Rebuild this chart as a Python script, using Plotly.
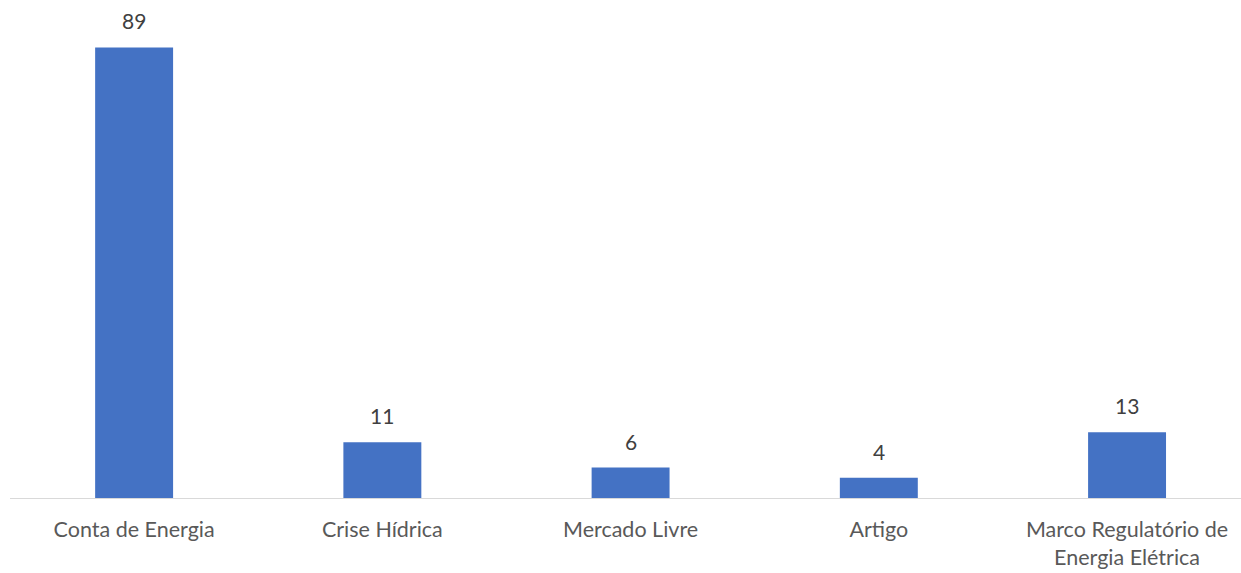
import plotly.graph_objects as go

categories = ["Conta de Energia", "Crise Hídrica", "Mercado Livre", "Artigo",
              "Marco Regulatório de<br>Energia Elétrica"]
values = [89, 11, 6, 4, 13]

FONT = "Lato, 'Open Sans', sans-serif"
fig = go.Figure()
fig.add_trace(go.Bar(x=list(range(len(categories))), y=values,
                     marker=dict(color="#4472C4", line=dict(width=0)),
                     width=0.314, hoverinfo="skip"))
for i, v in enumerate(values):
    fig.add_annotation(x=i, y=v, text=str(v), showarrow=False, yanchor="bottom",
                       yshift=12, font=dict(family=FONT, size=21, color="#404040"))

fig.update_layout(
    width=1241, height=573,
    margin=dict(l=10, r=0, t=17, b=75),
    paper_bgcolor="white", plot_bgcolor="white",
    showlegend=False,
    font=dict(family=FONT, size=21, color="#595959"),
    xaxis=dict(range=[-0.5, 4.459], tickmode="array",
               tickvals=list(range(len(categories))), ticktext=categories,
               showgrid=False, zeroline=False, showline=True, linecolor="#D9D9D9",
               linewidth=1, ticks="", ticklabelstandoff=12,
               tickfont=dict(family=FONT, size=21.5, color="#595959")),
    yaxis=dict(range=[0, 95], visible=False, showgrid=False, zeroline=False),
)
fig.write_html("out.html")
